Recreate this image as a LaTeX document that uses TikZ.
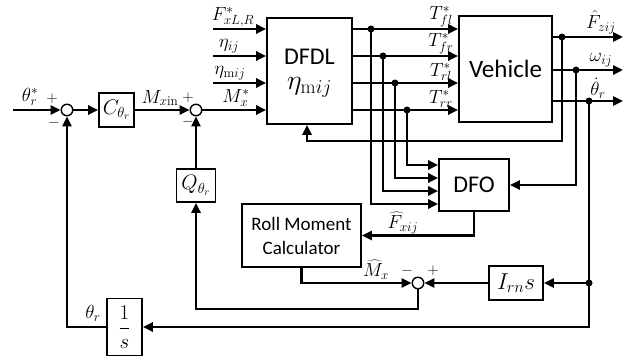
\documentclass[tikz,border=0pt]{standalone}
\usepackage{fix-cm}
\usepackage{fontspec}
\newfontfamily\calib{Carlito}
\usetikzlibrary{arrows.meta}
\begin{document}
\begin{tikzpicture}[x=1pt,y=-1pt,
  arr/.style={line width=2.8pt,-{Triangle[length=10pt,width=9pt]}},
  blk/.style={draw,line width=1.6pt,inner sep=0pt,fill=white},
  sumc/.style={draw,circle,line width=1.4pt,minimum size=11.5pt,inner sep=0pt,fill=white},
  jdot/.style={circle,fill,inner sep=0pt,minimum size=7pt},
  lab/.style={font=\fontsize{19}{21}\selectfont,inner sep=0pt},
  sgn/.style={font=\fontsize{15}{17}\selectfont,inner sep=0pt},
  big/.style={font=\fontsize{24}{28}\selectfont\calib,inner sep=0pt},
]
\useasboundingbox (0,0) rectangle (636,363);

% blocks
\node[blk,minimum width=85pt,minimum height=106pt] (dfdl) at (309.5,71) {};
\node[big] (dfdlt) at (309.5,57) {DFDL};
\node[inner sep=0pt,font=\fontsize{28}{30}\selectfont] (eta) at (309.5,87) {$\eta_{\mathrm{m}ij}$};
\node[blk,minimum width=93pt,minimum height=106pt,font=\fontsize{25}{28}\selectfont\calib] (veh) at (505.5,69) {Vehicle};
\node[blk,minimum width=70pt,minimum height=52pt,big] (dfo) at (474,185) {DFO};
\node[blk,minimum width=119pt,minimum height=63pt,align=center,font=\fontsize{19}{24}\selectfont\calib] (rmc) at (301.5,235.5) {Roll Moment\\Calculator};
\node[blk,minimum width=54pt,minimum height=34pt,font=\fontsize{23}{25}\selectfont] (irn) at (516,283) {$I_{rn}s$};
\node[blk,minimum width=35pt,minimum height=34pt,font=\fontsize{21}{23}\selectfont] (cb) at (116.5,110) {$C_{\theta_r}$};
\node[blk,minimum width=39pt,minimum height=33pt,font=\fontsize{21}{23}\selectfont] (qb) at (196,185.5) {$Q_{\theta_r}$};
\node[blk,minimum width=35pt,minimum height=57pt,font=\fontsize{21}{23}\selectfont] (one) at (124.5,327) {$\displaystyle\frac{1}{s}$};

% summing junctions
\node[sumc] (s1) at (67,110) {};
\node[sumc] (s2) at (196,110) {};
\node[sumc] (s3) at (418,283) {};

% coordinates
\coordinate (in0) at (13,110);
\coordinate (iF) at (213,29);
\coordinate (iE) at (213,56);
\coordinate (iM) at (213,83);
\coordinate (j1) at (371,29);
\coordinate (j2) at (383,56);
\coordinate (j3) at (395,83);
\coordinate (j4) at (407,110);
\coordinate (o1) at (562,37);
\coordinate (o2) at (576,70);
\coordinate (o3) at (589,101);
\coordinate (o4) at (589,283);
\coordinate (e1) at (623,37);
\coordinate (e2) at (623,70);
\coordinate (e3) at (623,101);
\coordinate (fbk) at (307,141);
\coordinate (lowq) at (196,309);

% main loop
\draw[arr] (in0) -- (s1);
\draw[arr] (s1) -- (cb.west);
\draw[arr] (cb.east) -- (s2);
\draw[arr] (s2) -- (s2 -| dfdl.west);
\draw[arr] (iF) -- (iF -| dfdl.west);
\draw[arr] (iE) -- (iE -| dfdl.west);
\draw[arr] (iM) -- (iM -| dfdl.west);

% DFDL -> Vehicle
\draw[arr] (j1 -| dfdl.east) -- (j1 -| veh.west);
\draw[arr] (j2 -| dfdl.east) -- (j2 -| veh.west);
\draw[arr] (j3 -| dfdl.east) -- (j3 -| veh.west);
\draw[arr] (j4 -| dfdl.east) -- (j4 -| veh.west);

% torques to DFO
\draw[arr] (j4) |- ([yshift=20pt]dfo.west);
\draw[arr] (j3) |- ([yshift=7pt]dfo.west);
\draw[arr] (j2) |- ([yshift=-6pt]dfo.west);
\draw[arr] (j1) |- ([yshift=-19pt]dfo.west);

% vehicle outputs
\draw[arr] (o1 -| veh.east) -- (e1);
\draw[arr] (o2 -| veh.east) -- (e2);
\draw[arr] (o3 -| veh.east) -- (e3);
\draw[arr] (o1) |- (fbk) -- (fbk |- dfdl.south);
\draw[arr] (o2) |- (dfo.east);
\draw[arr] (o3) |- (one.east);
\draw[arr] (o4) -- (irn.east);

% lower part
\draw[arr] (dfo.south) |- (rmc.east);
\draw[arr] (rmc.south) |- (s3.west);
\draw[arr] (irn.west) -- (s3.east);
\draw[arr] (s3.south) |- (lowq) -- (qb.south);
\draw[arr] (qb.north) -- (s2.south);
\draw[arr] (one.west) -| (s1.south);

% junction dots
\foreach \p in {j1,j2,j3,j4,o1,o2,o3,o4} \node[jdot] at (\p) {};

% labels
\node[lab] (lthr) at (30,97) {$\theta_r^*$};
\node[sgn] (p1) at (52,99) {$+$};
\node[sgn] (m1) at (54,123) {$-$};
\node[lab] (lmxin) at (160,98) {$M_{x\mathrm{in}}$};
\node[sgn] (p2) at (188,98) {$+$};
\node[sgn] (m2) at (188,122) {$-$};
\node[lab,anchor=south] (lF) at (233,27.5) {$F_{xL,R}^*$};
\node[lab,anchor=south] (lE) at (229,53) {$\eta_{ij}$};
\node[lab,anchor=south] (lEm) at (230,80) {$\eta_{\mathrm{m}ij}$};
\node[lab,anchor=south] (lMx) at (236,107) {$M_x^*$};
\node[lab,anchor=south] (lT1) at (441,27) {$T_{fl}^*$};
\node[lab,anchor=south] (lT2) at (441,54) {$T_{fr}^*$};
\node[lab,anchor=south] (lT3) at (441,81) {$T_{rl}^*$};
\node[lab,anchor=south] (lT4) at (441,108) {$T_{rr}^*$};
\node[lab,anchor=south] (lFz) at (601,34) {$\hat{F}_{zij}$};
\node[lab,anchor=south] (lw) at (601,67) {$\omega_{ij}$};
\node[lab,anchor=south] (ltd) at (598,99) {$\dot{\theta}_r$};
\node[lab] (lFx) at (403,223) {$\widehat{F}_{xij}$};
\node[lab] (lMh) at (376,270) {$\widehat{M}_x$};
\node[sgn] (m3) at (407,271) {$-$};
\node[sgn] (p3) at (433,271) {$+$};
\node[lab] (lthr2) at (93,313) {$\theta_r$};
\end{tikzpicture}
\end{document}
